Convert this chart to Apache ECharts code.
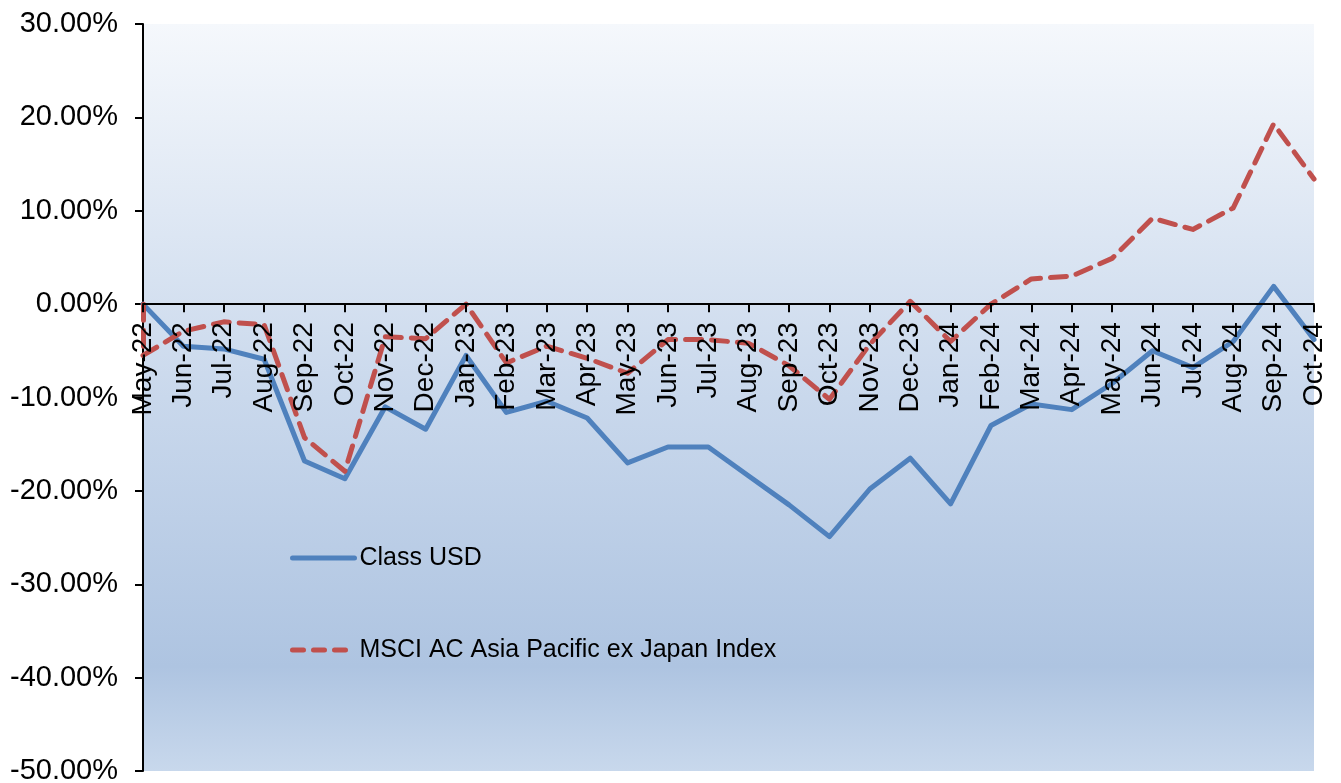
<!DOCTYPE html>
<html>
<head>
<meta charset="utf-8">
<script src="https://cdn.jsdelivr.net/npm/echarts@6/dist/echarts.min.js"></script>
<style>
html,body{margin:0;padding:0;background:#fff;}
#chart{width:1341px;height:783px;}
</style>
</head>
<body>
<div id="chart"></div>
<script>
const categories = ["May-22","Jun-22","Jul-22","Aug-22","Sep-22","Oct-22","Nov-22","Dec-22",
  "Jan-23","Feb-23","Mar-23","Apr-23","May-23","Jun-23","Jul-23","Aug-23","Sep-23","Oct-23","Nov-23","Dec-23",
  "Jan-24","Feb-24","Mar-24","Apr-24","May-24","Jun-24","Jul-24","Aug-24","Sep-24","Oct-24"];
const classUSD = [0, -4.5, -4.8, -5.9, -16.8, -18.7, -11.0, -13.4, -5.5, -11.6, -10.4, -12.2, -17.0, -15.3, -15.3,
  -18.4, -21.5, -24.9, -19.8, -16.5, -21.4, -13.0, -10.7, -11.3, -8.5, -5.0, -6.8, -4.0, 1.9, -3.8];
const msciInception = 0;
const msci = [-5.5, -2.9, -1.9, -2.2, -14.3, -17.9, -3.5, -3.7, 0.0, -6.3, -4.5, -5.8, -7.4, -3.8, -3.8,
  -4.2, -6.6, -10.2, -4.3, 0.3, -4.0, 0.0, 2.7, 3.0, 4.9, 9.2, 8.0, 10.3, 19.3, 13.4];
const yMin = -50, yMax = 30, yStep = 10;
const seriesNames = ["Class USD", "MSCI AC Asia Pacific ex Japan Index"];

const FONT = "'Liberation Sans', Arial, sans-serif";
const blue = '#4f81bd', red = '#c0504d';
const W = 1341, H = 783;
const gridLeft = 143, gridRight = 27, gridTop = 24, gridBottom = 12;
const gridH = H - gridTop - gridBottom;
const zeroOffset = -gridH * (0 - yMin) / (yMax - yMin);

const chart = echarts.init(document.getElementById('chart'), null, {renderer: 'canvas'});
const redLine = {color: red, width: 5, type: [16, 10], cap: 'round', join: 'round'};
const blueLine = {color: blue, width: 5, cap: 'round', join: 'round'};
chart.setOption({
  animation: false,
  backgroundColor: '#ffffff',
  grid: {
    left: gridLeft, right: gridRight, top: gridTop, bottom: gridBottom, containLabel: false,
    outerBoundsMode: 'none',
    show: true, borderWidth: 0,
    backgroundColor: new echarts.graphic.LinearGradient(0, 0, 0, 1, [
      {offset: 0, color: '#f5f8fc'},
      {offset: 0.5, color: '#c9d8ec'},
      {offset: 0.86, color: '#aec4e1'},
      {offset: 1, color: '#c8d8ec'}
    ])
  },
  legend: {
    orient: 'vertical', left: 290, top: 543, padding: 0,
    itemWidth: 62, itemHeight: 30, itemGap: 62,
    data: [
      {name: seriesNames[0], lineStyle: {width: 5, color: blue, cap: 'round', type: 'solid'}},
      {name: seriesNames[1], lineStyle: {width: 5, color: red, cap: 'round', type: [11, 10]}}
    ],
    itemStyle: {opacity: 0},
    textStyle: {fontFamily: FONT, fontSize: 25, color: '#000', lineHeight: 30}
  },
  xAxis: {
    type: 'category', data: categories, boundaryGap: false, z: 10,
    position: 'bottom', offset: zeroOffset,
    axisLine: {onZero: false, lineStyle: {color: '#000', width: 2}},
    axisTick: {show: true, length: 8, interval: 0, lineStyle: {color: '#000', width: 2}},
    axisLabel: {interval: 0, rotate: 90, margin: 18, fontFamily: FONT, fontSize: 28, color: '#000',
      hideOverlap: false},
    splitLine: {show: false}
  },
  yAxis: {
    type: 'value', min: yMin, max: yMax, interval: yStep,
    axisLine: {show: true, lineStyle: {color: '#000', width: 2}},
    axisTick: {show: true, length: 8, lineStyle: {color: '#000', width: 2}},
    axisLabel: {margin: 25, fontFamily: FONT, fontSize: 29, color: '#000',
      formatter: v => v.toFixed(2) + '%'},
    splitLine: {show: false}
  },
  series: [
    {
      name: seriesNames[0], type: 'line', data: classUSD, symbol: 'none', z: 3,
      itemStyle: {color: blue},
      lineStyle: blueLine
    },
    {
      name: seriesNames[1], type: 'line', data: msci, symbol: 'none', z: 4,
      itemStyle: {color: red},
      lineStyle: redLine,
      markLine: {
        silent: true, symbol: 'none', label: {show: false},
        lineStyle: redLine,
        data: [[{coord: [0, msciInception]}, {coord: [0, msci[0]]}]]
      }
    }
  ]
});
</script>
</body>
</html>
